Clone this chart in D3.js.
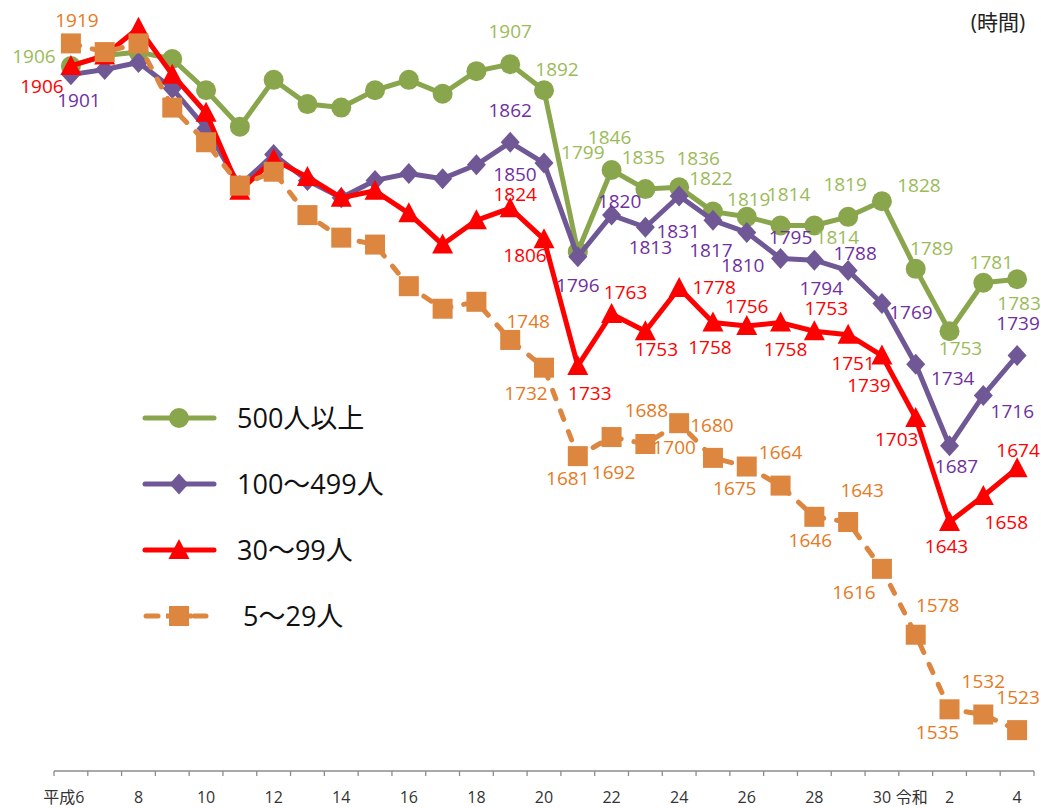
<!DOCTYPE html>
<html><head><meta charset="utf-8">
<script src="https://cdn.jsdelivr.net/npm/d3@7"></script>
<style>body{margin:0;background:#fff} svg{display:block}</style>
</head><body>
<svg id="c" width="1041" height="808"></svg>
<script>
// ---- data ----
const categories = ["H6","H7","H8","H9","H10","H11","H12","H13","H14","H15","H16","H17","H18","H19","H20","H21","H22","H23","H24","H25","H26","H27","H28","H29","H30","R1","R2","R3","R4"];
const tickLabels = ["平成6","","8","","10","","12","","14","","16","","18","","20","","22","","24","","26","","28","","30","令和","2","","4"];
const seriesNames = ["500人以上","100～499人","30～99人","5～29人"];
const size500 = [1906,1912,1914,1910,1892,1871,1898,1884,1882,1892,1898,1890,1903,1907,1892,1799,1846,1835,1836,1822,1819,1814,1814,1819,1828,1789,1753,1781,1783];
const size100 = [1901,1904,1908,1893,1870,1837,1855,1840,1830,1840,1844,1841,1849,1862,1850,1796,1820,1813,1831,1817,1810,1795,1794,1788,1769,1734,1687,1716,1739];
const size30  = [1906,1912,1928,1901,1879,1834,1852,1842,1830,1834,1821,1803,1817,1824,1806,1733,1763,1753,1778,1758,1756,1758,1753,1751,1739,1703,1643,1658,1674];
const size5   = [1919,1914,1919,1882,1862,1837,1845,1820,1807,1803,1779,1766,1770,1748,1732,1681,1692,1688,1700,1680,1675,1664,1646,1643,1616,1578,1535,1532,1523];
const unitLabel = "(時間)";

// ---- label placement (offsets from point, per labelled index) ----
const labelIdx = [0,13,14,15,16,17,18,19,20,21,22,23,24,25,26,27,28];
const off500 = [[-37,-10],[0,-33],[13,-21],[5,-99],[-2,-33],[-2,-32],[19,-29],[-2,-33],[2,-18],[8,-31],[23,12],[-3,-33],[37,-16],[16,-21],[11,17],[8,-21],[2,24]];
const off100 = [[8,26],[0,-32],[-29,11],[0,28],[8,-14],[5,20],[-1,35],[-2,30],[-4,33],[10,-21],[7,28],[7,-17],[29,9],[37,14],[7,20],[29,16],[1,-32]];
const off30  = [[-29,20],[5,-14],[-19,16],[12,27],[14,-22],[11,18],[35,-1],[-3,25],[0,-20],[5,27],[12,-23],[5,28],[-13,30],[-19,21],[-3,24],[23,26],[1,-18]];
const off5   = [[6,-23],[18,-19],[-18,25],[-10,22],[2,35],[1,-34],[-5,24],[-1,-33],[-12,22],[0,-33],[-4,23],[14,-32],[-28,23],[22,-30],[-12,23],[0,-33],[1,-33]];

const styles = [
  {line:"#8AA64D", label:"#9BBB59", marker:"circle", dash:null},
  {line:"#6F5895", label:"#7030A0", marker:"diamond", dash:null},
  {line:"#FF0000", label:"#FF0000", marker:"triangle", dash:null},
  {line:"#DD8640", label:"#E57A22", marker:"square", dash:"9,13"}
];
const allValues = [size500,size100,size30,size5];
const allOffsets = [off500,off100,off30,off5];

const svg = d3.select("#c");
const font = "'Open Sans','Noto Sans CJK JP',sans-serif";

const x = d3.scaleBand().domain(categories).range([54,1034]).paddingInner(0).paddingOuter(0);
const y = d3.scaleLinear().domain([1500,1940]).range([770,7]);
const cx = c => x(c) + x.bandwidth()/2;

// ---- x axis ----
const axisY = 771;
const ax = svg.append("g").attr("transform",`translate(0,${axisY})`)
  .call(d3.axisBottom(x).tickSize(0).tickPadding(21).tickFormat((d,i)=>tickLabels[i]));
ax.select(".domain").attr("stroke","#8c8c8c").attr("stroke-width",1.5).attr("d",`M${x.range()[0]},0H${x.range()[1]}`);
ax.selectAll(".tick text").attr("font-family",font).attr("font-size",16).attr("fill","#333")
  .attr("dx",(d,i)=> i===0 ? -7 : (i===25 ? -4 : 0));
const bounds = categories.map(c=>x(c)).concat([x.range()[1]]);
ax.selectAll("line.bt").data(bounds).enter().append("line").attr("class","bt")
  .attr("x1",d=>d).attr("x2",d=>d).attr("y1",0).attr("y2",5)
  .attr("stroke","#8c8c8c").attr("stroke-width",1.3);

// ---- markers ----
function drawMarker(g, type, color){
  if(type==="circle") g.append("circle").attr("r",10).attr("fill",color);
  else if(type==="diamond") g.append("path").attr("d","M0,-10.5L9.5,0L0,10.5L-9.5,0Z").attr("fill",color);
  else if(type==="triangle") g.append("path").attr("d","M0,-11L10.5,9L-10.5,9Z").attr("fill",color);
  else if(type==="square") g.append("rect").attr("x",-10).attr("y",-10).attr("width",20).attr("height",20).attr("fill",color);
}

const line = d3.line().x((d,i)=>cx(categories[i])).y(d=>y(d));

allValues.forEach((vals,si)=>{
  const st = styles[si];
  const g = svg.append("g");
  g.append("path").datum(vals).attr("d",line).attr("fill","none")
    .attr("stroke",st.line).attr("stroke-width",5)
    .attr("stroke-linejoin","round").attr("stroke-linecap","round")
    .attr("stroke-dasharray",st.dash);
  vals.forEach((v,i)=>{
    const mg = g.append("g").attr("transform",`translate(${cx(categories[i])},${y(v)})`);
    drawMarker(mg, st.marker, st.line);
  });
});

// labels on top
allValues.forEach((vals,si)=>{
  const st = styles[si];
  labelIdx.forEach((i,k)=>{
    const o = allOffsets[si][k];
    svg.append("text").attr("x",cx(categories[i])+o[0]).attr("y",y(vals[i])+o[1])
      .attr("dy","0.36em").attr("text-anchor","middle")
      .attr("font-family",font).attr("font-size",19).attr("fill",st.label)
      .text(vals[i]);
  });
});

// ---- legend ----
const legY = [418,484,550,616];
seriesNames.forEach((n,si)=>{
  const st = styles[si];
  const g = svg.append("g").attr("transform",`translate(0,${legY[si]})`);
  if(st.dash){
    g.append("line").attr("x1",146).attr("x2",158).attr("stroke",st.line).attr("stroke-width",5).attr("stroke-linecap","round");
    g.append("line").attr("x1",194).attr("x2",206).attr("stroke",st.line).attr("stroke-width",5).attr("stroke-linecap","round");
    g.append("line").attr("x1",166).attr("x2",192).attr("stroke",st.line).attr("stroke-width",5);
  } else {
    g.append("line").attr("x1",145).attr("x2",214).attr("stroke",st.line).attr("stroke-width",5).attr("stroke-linecap","round");
  }
  const mg = g.append("g").attr("transform","translate(179,0)");
  drawMarker(mg, st.marker, st.line);
  g.append("text").attr("x", st.dash ? 243 : 237).attr("y",0).attr("dy","0.36em")
    .attr("font-family",font).attr("font-size",27).attr("fill","#111").text(n);
});

// unit label
svg.append("text").attr("x",998).attr("y",22).attr("dy","0.36em").attr("text-anchor","middle")
  .attr("font-family",font).attr("font-size",21).attr("fill","#222").text(unitLabel);
</script>
</body></html>
